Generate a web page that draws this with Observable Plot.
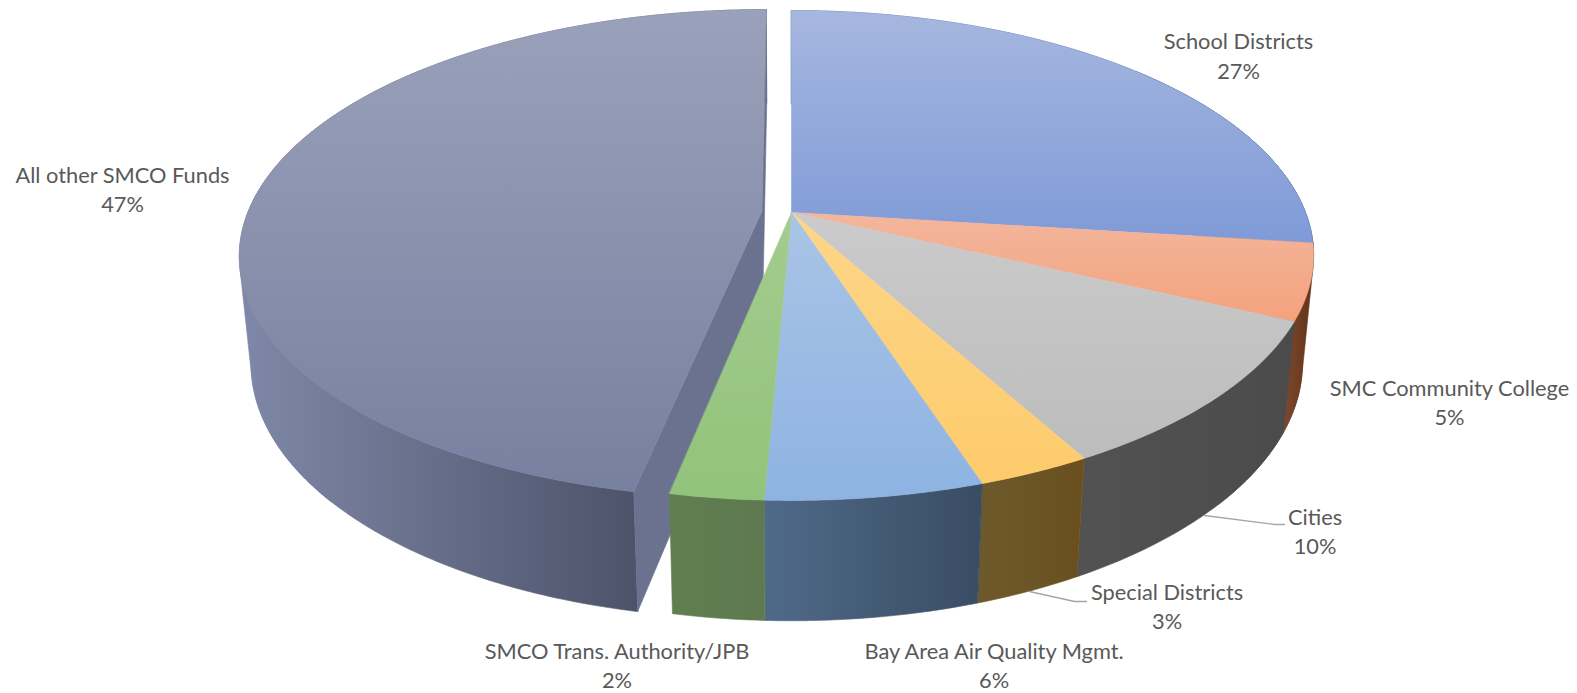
<!DOCTYPE html>
<html>
<head>
<meta charset="utf-8">
<script src="https://cdn.jsdelivr.net/npm/d3@7"></script>
<script src="https://cdn.jsdelivr.net/npm/@observablehq/plot@0.6"></script>
<style>html,body{margin:0;padding:0;background:#fff}svg{display:block}</style>
</head>
<body>
<div id="chart"></div>
<script>
// Data, clockwise from twelve o'clock
const categories = ["School Districts","SMC Community College","Cities","Special Districts","Bay Area Air Quality Mgmt.","SMCO Trans. Authority/JPB","All other SMCO Funds"];
const shares = [27, 5, 10, 3, 5.7, 2.45, 46.85];
const exploded = [0, 0, 0, 0, 0, 0, 0.058];

// Colours: [top face light, top face dark], [wall light, wall dark]
const faceColors = [["#a6b7df","#7f9ad7"],["#f3b69e","#f4a27c"],["#cbcbcb","#bcbcbc"],["#fdd689","#fdcb6b"],["#a9c4e6","#8eb3e2"],["#a3cc8f","#92c37b"],["#9aa1ba","#77809f"]];
const wallColors = [["#3f5a8f","#3f5a8f"],["#7c4a2e","#623219"],["#525252","#4b4b4b"],["#6d5a2c","#6a4f1f"],["#4f6a88","#394c64"],["#5f7f4f","#5f7950"],["#7f88a8","#4b5167"]];
const cutColor = "#6a7290";

// Label placement (first-line centre) and leader lines
const labelX = [1238, 1449, 1314.5, 1166.6, 993.6, 616.5, 122];
const labelY = [41.5, 388, 517, 592, 651, 651, 175];
const leaders = [[[1204,515],[1274,524],[1284,524]],[[1029,591],[1074,601],[1086,601]]];

// Perspective camera for the 3-D pie
const cx = 791, cy = 212, A = 514, B = 237.4, k = 0.1755, C = 107.8, e = 0.021;
const project = (theta, r, dr, mid, z) => {
  const u = r * Math.sin(theta) + dr * Math.sin(mid);
  const v = -r * Math.cos(theta) - dr * Math.cos(mid);
  const w = 1 - k * v + e * z;
  return {x: cx + A * u / w, y: cy + (B * v + C * z) / w};
};

let cumulative = 0;
const total = d3.sum(shares);
const slices = categories.map((name, i) => {
  const a0 = cumulative / total * 2 * Math.PI;
  cumulative += shares[i];
  const a1 = cumulative / total * 2 * Math.PI;
  return {i, name, a0, a1, mid: (a0 + a1) / 2, dr: exploded[i]};
});
const angles = s => {
  const n = Math.max(2, Math.ceil((s.a1 - s.a0) * 120));
  return d3.range(n + 1).map(j => s.a0 + (s.a1 - s.a0) * j / n);
};
const arc = (s, z) => angles(s).map(a => project(a, 1, s.dr, s.mid, z));
const topFace = s => [project(0, 0, s.dr, s.mid, 0), ...arc(s, 0)];
const wall = s => [...arc(s, 0), ...arc(s, 1).reverse()];
// Where the rim turns away from the viewer, the outline is the hull of top and bottom rims
const silhouette = s => {
  const near = angles(s).filter(a => Math.abs(Math.sin(a)) > 0.75);
  if (near.length < 3) return [];
  const pts = near.flatMap(a => [project(a, 1, s.dr, s.mid, 0), project(a, 1, s.dr, s.mid, 1)]);
  return d3.polygonHull(pts.map(p => [p.x, p.y])).map(([x, y]) => ({x, y}));
};
const cutFace = (s, a) => [project(0, 0, s.dr, s.mid, 0), project(a, 1, s.dr, s.mid, 0), project(a, 1, s.dr, s.mid, 1), project(0, 0, s.dr, s.mid, 1)];

const poly = (pts, fill) => Plot.line(pts, {x: "x", y: "y", fill, stroke: fill, strokeWidth: 0.6, curve: "linear-closed"});
const wallMarks = s => [poly(silhouette(s), `url(#wall${s.i})`), poly(wall(s), `url(#wall${s.i})`)];

const gradients = () => {
  const g = d3.create("svg:defs");
  const stops = (lg, [c0, c1], end = 1) => {
    lg.append("stop").attr("offset", 0).attr("stop-color", c0);
    lg.append("stop").attr("offset", end).attr("stop-color", c1);
  };
  faceColors.forEach((c, i) => stops(g.append("linearGradient").attr("id", `face${i}`)
    .attr("x1", 0).attr("y1", 0).attr("x2", 0).attr("y2", 1), c));
  wallColors.forEach((c, i) => {
    const [x0, x1] = d3.extent([...arc(slices[i], 0), ...arc(slices[i], 1)], p => p.x);
    stops(g.append("linearGradient").attr("id", `wall${i}`).attr("gradientUnits", "userSpaceOnUse")
      .attr("x1", x0).attr("y1", 0).attr("x2", x1).attr("y2", 0), c, i === 6 ? 0.78 : 1);
  });
  return g.node();
};

const other = slices[6];
const main = slices.slice(0, 6);
const labels = slices.map((s, i) => ({
  text: `${s.name}\n${Math.round(shares[i])}%`, x: labelX[i], y: labelY[i] + 12.7
}));

const chart = Plot.plot({
  width: 1577, height: 693, margin: 0,
  x: {domain: [0, 1577], range: [0, 1577], axis: null},
  y: {domain: [0, 693], range: [0, 693], axis: null},
  style: {background: "#fff", overflow: "hidden"},
  marks: [
    gradients,
    // exploded slice first, so the main pie passes in front of it
    ...wallMarks(other),
    poly(cutFace(other, other.a1), cutColor),
    poly(cutFace(other, other.a0), cutColor),
    poly(topFace(other), "url(#face6)"),
    ...main.flatMap(wallMarks),
    ...main.map(s => poly(topFace(s), `url(#face${s.i})`)),
    ...leaders.map(l => Plot.line(l.map(([x, y]) => ({x, y})), {x: "x", y: "y", stroke: "#a6a6a6", strokeWidth: 1.3})),
    Plot.text(labels, {x: "x", y: "y", text: "text", fill: "#595959", fontFamily: "Lato", fontSize: 21.8, lineHeight: 1.353, textAnchor: "middle", lineAnchor: "middle"})
  ]
});
document.getElementById("chart").append(chart);
</script>
</body>
</html>
